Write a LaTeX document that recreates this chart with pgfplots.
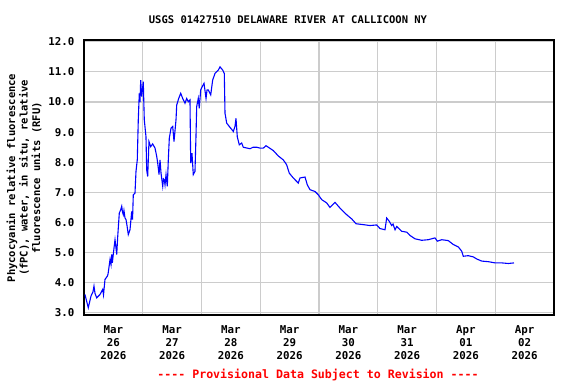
\documentclass[border=0pt]{standalone}
\usepackage{pgfplots}
\pgfplotsset{compat=1.18}
\usepackage{fontspec}
\setmainfont{DejaVu Sans Mono}[Ligatures=TeXOff]
\definecolor{gridgray}{RGB}{204,204,204}
\definecolor{usgsblue}{RGB}{0,0,255}
\begin{document}
\begin{tikzpicture}[x=1bp,y=1bp]
\useasboundingbox (0,0) rectangle (576,384);
\begin{axis}[
  at={(84bp,69bp)}, anchor=south west,
  scale only axis, width=470bp, height=275bp,
  xmin=0, xmax=8, ymin=2.93, ymax=12.06,
  xtick={1,2,...,7},
  xticklabels={},
  extra x ticks={0.5,1.5,...,7.5},
  extra x tick labels={Mar\\26\\2026,Mar\\27\\2026,Mar\\28\\2026,Mar\\29\\2026,Mar\\30\\2026,Mar\\31\\2026,Apr\\01\\2026,Apr\\02\\2026},
  extra x tick style={grid=none, xticklabel style={align=center, yshift=-7bp}},
  ytick={3,4,...,12},
  yticklabel={\pgfmathprintnumber[fixed,fixed zerofill,precision=1]{\tick}},
  /pgf/number format/assume math mode=true,
  grid=major,
  grid style={gridgray, line width=1.1bp},
  major tick length=0pt, minor tick length=0pt,
  axis line style={black, line width=1.3bp},
  tick label style={font=\fontsize{10.8bp}{13bp}\selectfont\bfseries},
  yticklabel style={xshift=-6bp},
]
\addplot[usgsblue, line width=1.1bp] coordinates {
(0.017,3.61)(0.073,3.17)(0.119,3.56)(0.153,3.70)(0.170,3.89)(0.187,3.65)(0.216,3.50)(0.272,3.61)
(0.318,3.78)(0.332,3.60)(0.357,4.11)(0.397,4.22)(0.41,4.30)(0.443,4.77)(0.46,4.60)(0.471,4.94)
(0.482,4.66)(0.511,5.16)(0.528,5.43)(0.557,4.94)(0.574,5.54)(0.601,6.32)(0.621,6.40)(0.642,6.54)
(0.655,6.35)(0.669,6.26)(0.68,6.40)(0.698,6.15)(0.715,6.10)(0.732,5.90)(0.754,5.60)(0.783,5.76)
(0.812,6.37)(0.826,6.10)(0.839,6.92)(0.868,6.98)(0.885,7.70)(0.907,8.08)(0.924,9.41)(0.941,10.29)
(0.953,10.00)(0.965,10.73)(0.982,10.18)(1.009,10.68)(1.026,9.41)(1.055,8.85)(1.067,7.75)(1.084,7.53)
(1.106,8.69)(1.135,8.52)(1.169,8.61)(1.209,8.47)(1.238,8.19)(1.255,7.97)(1.277,7.59)(1.294,8.08)
(1.311,7.64)(1.340,7.20)(1.353,7.45)(1.367,7.42)(1.379,7.25)(1.396,7.59)(1.418,7.20)(1.435,8.08)
(1.452,8.80)(1.481,9.13)(1.510,9.19)(1.532,8.69)(1.566,9.41)(1.578,9.90)(1.612,10.12)(1.646,10.29)
(1.680,10.12)(1.719,9.96)(1.748,10.12)(1.775,10.01)(1.804,10.07)(1.816,7.97)(1.838,8.30)(1.860,7.59)
(1.889,7.70)(1.906,8.85)(1.918,9.85)(1.945,10.12)(1.962,9.79)(1.986,10.40)(2.009,10.50)(2.043,10.62)
(2.077,10.12)(2.094,10.40)(2.116,10.40)(2.157,10.24)(2.190,10.73)(2.230,10.95)(2.286,11.06)(2.315,11.17)
(2.361,11.06)(2.388,10.95)(2.400,9.63)(2.429,9.30)(2.473,9.19)(2.531,9.05)(2.541,9.02)(2.570,9.19)
(2.587,9.46)(2.609,8.85)(2.643,8.58)(2.684,8.64)(2.711,8.50)(2.826,8.45)(2.877,8.50)(2.940,8.50)
(2.996,8.47)(3.052,8.47)(3.098,8.55)(3.137,8.50)(3.222,8.39)(3.307,8.21)(3.392,8.08)(3.449,7.92)
(3.494,7.64)(3.562,7.48)(3.647,7.31)(3.677,7.48)(3.762,7.51)(3.801,7.25)(3.847,7.09)(3.932,7.03)
(3.988,6.92)(4.046,6.76)(4.131,6.65)(4.187,6.50)(4.272,6.67)(4.357,6.48)(4.471,6.26)(4.557,6.12)
(4.630,5.96)(4.754,5.93)(4.868,5.90)(4.982,5.92)(5.038,5.80)(5.123,5.76)(5.152,6.15)(5.196,6.04)
(5.237,5.90)(5.26,5.95)(5.294,5.76)(5.322,5.87)(5.407,5.71)(5.493,5.68)(5.549,5.57)(5.634,5.46)
(5.748,5.41)(5.860,5.43)(5.974,5.49)(6.014,5.38)(6.089,5.43)(6.200,5.40)(6.286,5.27)(6.371,5.19)
(6.429,5.05)(6.456,4.88)(6.541,4.90)(6.626,4.86)(6.684,4.79)(6.770,4.72)(6.883,4.70)(6.996,4.66)
(7.110,4.66)(7.222,4.64)(7.319,4.66)
};
\end{axis}
\node[font=\fontsize{10.5bp}{13bp}\selectfont\bfseries] at (288,364) {USGS 01427510 DELAWARE RIVER AT CALLICOON NY};
\node[font=\fontsize{10.5bp}{12.5bp}\selectfont\bfseries, align=center, rotate=90] at (24,206) {Phycocyanin relative fluorescence\\(fPC), water, in situ, relative\\fluorescence units (RFU)};
\node[font=\fontsize{11.6bp}{13bp}\selectfont\bfseries, text=red] at (318,9) {---- Provisional Data Subject to Revision ----};
\end{tikzpicture}
\end{document}
